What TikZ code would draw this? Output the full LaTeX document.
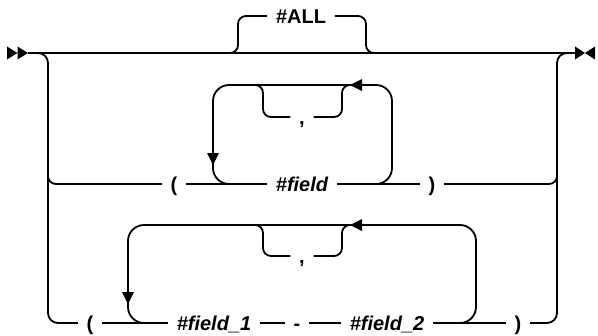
\documentclass[tikz,border=0pt]{standalone}
\usepackage{fontspec}
\setmainfont{Liberation Sans}
\begin{document}
\begin{tikzpicture}[x=1bp,y=-1bp,line width=1.8bp,
  txt/.style={font=\fontsize{20bp}{24bp}\selectfont\bfseries,inner xsep=8bp,inner ysep=0pt,text height=14bp,text depth=0bp,anchor=center},
  var/.style={txt,font=\fontsize{20bp}{24bp}\selectfont\bfseries\itshape},
  sm/.style={rounded corners=8bp},
  lp/.style={rounded corners=16bp},
  tipfill/.style={fill=black,draw=none}]
\useasboundingbox (0,0) rectangle (598,335);
% nodes
\node[txt] (all) at (301,16) {\#ALL};
\node[txt] (lp1) at (174,184) {(};
\node[var] (f) at (302,184) {\#field};
\node[txt] (rp1) at (432,184) {)};
\node[txt] (c1) at (302,117) {,};
\node[txt] (lp2) at (90,323) {(};
\node[var] (f1) at (214,323) {\#field\_1};
\node[txt] (dash) at (297,323) {-};
\node[var] (f2) at (387,323) {\#field\_2};
\node[txt] (rp2) at (518,323) {)};
\node[txt] (c2) at (302,256) {,};
% main line
\coordinate (start) at (28,53);
\coordinate (stop) at (575,53);
\draw (start) -- (stop);
\fill[tipfill] (7,46.5) -- (17.5,53) -- (7,59.5) -- cycle;
\fill[tipfill] (17.5,46.5) -- (start) -- (17.5,59.5) -- cycle;
\fill[tipfill] (stop) ++(0,-6.5) -- (585,53) -- (575,59.5) -- cycle;
\fill[tipfill] (595,46.5) -- (585,53) -- (595,59.5) -- cycle;
% #ALL branch
\draw[sm] (228,53) -- (238,53) -- (238,16) -- (all.west);
\draw[sm] (all.east) -- (366,16) -- (366,53) -- (376,53);
% left and right rails
\draw[rounded corners=10bp] (37,53) -- (48,53) -- (48,323) -- (lp2.west);
\draw[sm] (48,170) -- (48,184) -- (lp1.west);
\draw[rounded corners=10bp] (rp2.east) -- (557,323) -- (557,53) -- (568,53);
\draw[sm] (rp1.east) -- (557,184) -- (557,170);
% row 2
\draw (lp1.east) -- (f.west);
\draw (f.east) -- (rp1.west);
\draw[lp] (370,184) -- (392,184) -- (392,85) -- (213,85) -- (213,184) -- (234,184);
\draw[sm] (252,85) -- (263,85) -- (263,117) -- (c1.west);
\draw[sm] (c1.east) -- (342,117) -- (342,85) -- (353,85);
\fill[tipfill] (350,85) -- (362,79) -- (362,91) -- cycle;
\fill[tipfill] (213,165) -- (207,153) -- (219,153) -- cycle;
% row 3
\draw (lp2.east) -- (f1.west);
\draw (f1.east) -- (dash.west);
\draw (dash.east) -- (f2.west);
\draw (f2.east) -- (rp2.west);
\draw[lp] (455,323) -- (476,323) -- (476,225) -- (128,225) -- (128,323) -- (150,323);
\draw[sm] (252,225) -- (263,225) -- (263,256) -- (c2.west);
\draw[sm] (c2.east) -- (342,256) -- (342,225) -- (353,225);
\fill[tipfill] (350,225) -- (362,219) -- (362,231) -- cycle;
\fill[tipfill] (128,304) -- (122,292) -- (134,292) -- cycle;
\end{tikzpicture}
\end{document}
